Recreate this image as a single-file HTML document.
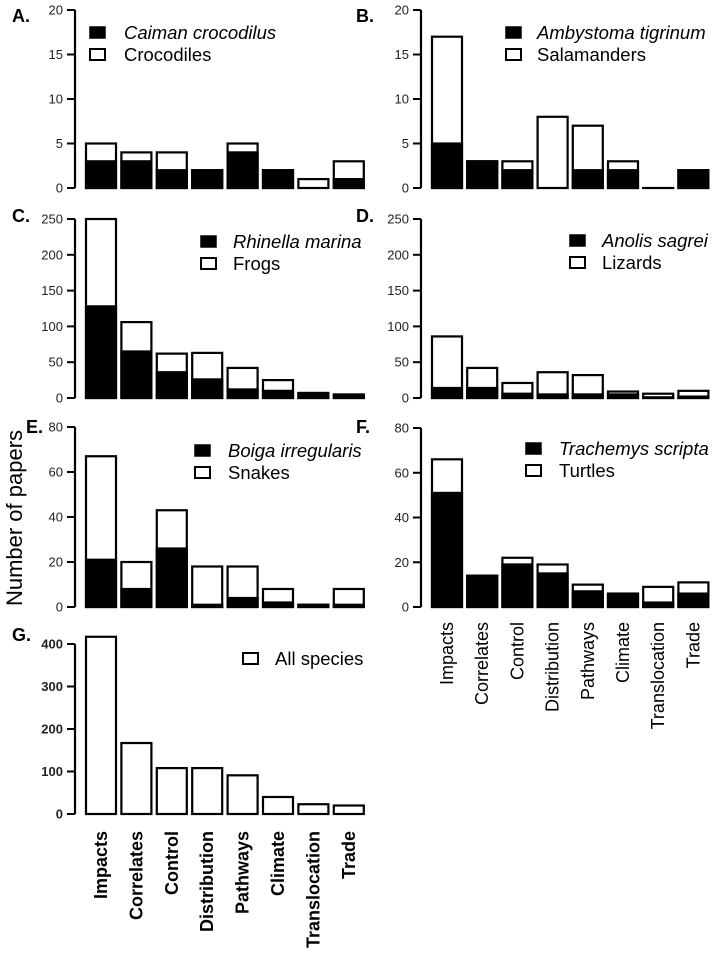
<!DOCTYPE html>
<html><head><meta charset="utf-8"><style>
body{margin:0;background:#fff}
svg{display:block;font-family:"Liberation Sans",Arial,sans-serif}
</style></head><body>
<svg id="fig" width="720" height="955" viewBox="0 0 720 955" xmlns="http://www.w3.org/2000/svg">
<text transform="translate(22,518) rotate(-90)" text-anchor="middle" font-size="22">Number of papers</text>
</svg>
<script>
const categories=["Impacts","Correlates","Control","Distribution","Pathways","Climate","Translocation","Trade"];
const caimanVals=[3,3,2,2,4,2,0,1];
const crocTotals=[5,4,4,2,5,2,1,3];
const ambystomaVals=[5,3,2,0,2,2,0,2];
const salamanderTotals=[17,3,3,8,7,3,0,2];
const rhinellaVals=[128,65,36,26,12,10,7,3];
const frogTotals=[250,106,62,63,42,25,7,5];
const anolisVals=[14,14,6,5,5,5,1,2];
const lizardTotals=[86,42,21,36,32,9,6,10];
const boigaVals=[21,8,26,1,4,2,1,1];
const snakeTotals=[67,20,43,18,18,8,1,8];
const trachemysVals=[51,14,19,15,7,6,2,6];
const turtleTotals=[66,14,22,19,10,6,9,11];
const allTotals=[417,167,108,108,91,40,23,20];
const ticks20=[0,5,10,15,20];
const ticks250=[0,50,100,150,200,250];
const ticks80=[0,20,40,60,80];
const ticks400=[0,100,200,300,400];

const NS="http://www.w3.org/2000/svg";
const svg=document.getElementById('fig');
function mk(tag,attrs,parent){const e=document.createElementNS(NS,tag);for(const k in attrs)e.setAttribute(k,attrs[k]);(parent||svg).appendChild(e);return e;}

const panels=[
 {id:'a',letter:'A.',ax:75,zero:188,top:10,ticks:ticks20,sp:caimanVals,tot:crocTotals,sname:'Caiman crocodilus',gname:'Crocodiles',lx:90,ly:27,lx2:124,letX:12,letY:22},
 {id:'b',letter:'B.',ax:421,zero:188,top:10,ticks:ticks20,sp:ambystomaVals,tot:salamanderTotals,sname:'Ambystoma tigrinum',gname:'Salamanders',lx:506,ly:27,lx2:537,letX:356,letY:22},
 {id:'c',letter:'C.',ax:75,zero:398,top:219,ticks:ticks250,sp:rhinellaVals,tot:frogTotals,sname:'Rhinella marina',gname:'Frogs',lx:201,ly:236,lx2:233,letX:12,letY:222},
 {id:'d',letter:'D.',ax:421,zero:398,top:219,ticks:ticks250,sp:anolisVals,tot:lizardTotals,sname:'Anolis sagrei',gname:'Lizards',lx:570,ly:235,lx2:602,letX:356,letY:222},
 {id:'e',letter:'E.',ax:75,zero:607,top:427,ticks:ticks80,sp:boigaVals,tot:snakeTotals,sname:'Boiga irregularis',gname:'Snakes',lx:195,ly:445,lx2:228,letX:26,letY:433},
 {id:'f',letter:'F.',ax:421,zero:607,top:428,ticks:ticks80,sp:trachemysVals,tot:turtleTotals,sname:'Trachemys scripta',gname:'Turtles',lx:526,ly:443,lx2:559,letX:356,letY:433},
 {id:'g',letter:'G.',ax:75,zero:814,top:644,ticks:ticks400,sp:null,tot:allTotals,sname:null,gname:'All species',lx:243,ly:653,lx2:275,letX:12,letY:641,bold:true}
];

panels.forEach(p=>{
 const g=mk('g',{});
 
 
 const max=p.ticks[p.ticks.length-1];
 const y=v=>p.zero-(v/max)*(p.zero-p.top);
 const step=p.ax>200?35.2:35.4;
 const x=i=>p.ax+11+i*step;
 const bw=30;
 const lt=mk('text',{x:p.letX,y:p.letY,'font-size':18,'font-weight':'bold'},g);lt.textContent=p.letter;
 
 
 const axis=mk('line',{x1:p.ax,x2:p.ax,y1:y(max),y2:p.zero,stroke:'#000','stroke-width':2.2},g);
 
 
 p.ticks.forEach(t=>{
  mk('line',{x1:p.ax-8,x2:p.ax,y1:y(t),y2:y(t),stroke:'#000','stroke-width':2},g);
  const tl=mk('text',{x:p.ax-12,y:y(t)+4.5,'text-anchor':'end','font-size':13,'font-weight':p.bold?'bold':'normal',fill:'#222'},g);
  tl.textContent=t;
  
  
 });
 p.tot.forEach((v,i)=>{
  const r=mk('rect',{x:x(i),y:y(v),width:bw,height:Math.max(p.zero-y(v),0.01),fill:'#fff',stroke:'#000','stroke-width':2.2},g);
  
  
  if(p.sp&&p.sp[i]>0){
   const s=mk('rect',{x:x(i),y:y(p.sp[i]),width:bw,height:p.zero-y(p.sp[i]),fill:'#000',stroke:'#000','stroke-width':2.2},g);
   
   
  }
 });
 if(p.sname){
  const k1=mk('rect',{x:p.lx,y:p.ly,width:15,height:11,fill:'#000',stroke:'#000','stroke-width':1.5},g);
  
  
  const t1=mk('text',{x:p.lx2,y:p.ly+12,'font-size':18.5,'font-style':'italic'},g);t1.textContent=p.sname;
  
  
 }
 const oy=p.sname?p.ly+22:p.ly;
 const k2=mk('rect',{x:p.lx,y:oy,width:15,height:11,fill:'#fff',stroke:'#000','stroke-width':2},g);
 
 
 const t2=mk('text',{x:p.lx2,y:oy+12,'font-size':18.5},g);t2.textContent=p.gname;
 
 
 if(p.id==='f'||p.id==='g'){
  categories.forEach((c,i)=>{
   const cx=x(i)+bw/2+6;
   const cy=p.zero+(p.id==='g'?17:15);
   const t=mk('text',{transform:`translate(${cx},${cy}) rotate(-90)`,'text-anchor':'end','font-size':18,'font-weight':p.bold?'bold':'normal'},g);
   t.textContent=c;
   
   
  });
 }
});
</script>
</body></html>
